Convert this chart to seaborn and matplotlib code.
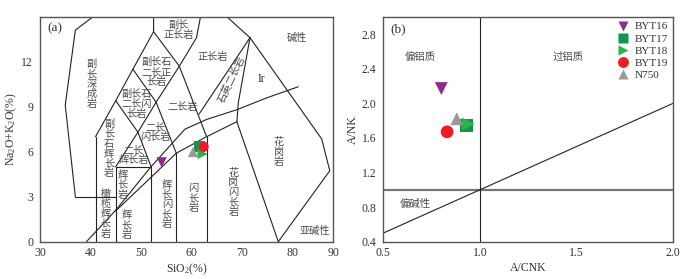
import matplotlib
matplotlib.use("Agg")
import matplotlib.pyplot as plt
import seaborn as sns
import pandas as pd
import numpy as np

sns.set_style("white")
plt.rcParams['font.family'] = ['Liberation Serif', 'Noto Sans CJK SC', 'DejaVu Sans']
plt.rcParams['mathtext.default'] = 'regular'

# ---------------- data ----------------
samples = ['BYT16', 'BYT17', 'BYT18', 'BYT19', 'N750']
sio2 = [54.1, 61.6, 62.2, 62.4, 60.3]
alk = [5.29, 6.35, 5.85, 6.33, 5.98]
acnk = [0.80, 0.93, 0.94, 0.83, 0.88]
ank = [2.17, 1.74, 1.76, 1.67, 1.82]

colors = {'BYT16': '#8e2a8e', 'BYT17': '#11964a', 'BYT18': '#2eb34a',
          'BYT19': '#ee1c24', 'N750': '#999999'}
markers = {'BYT16': 'v', 'BYT17': 's', 'BYT18': '>', 'BYT19': 'o', 'N750': '^'}

# TAS classification boundary lines (SiO2, Na2O+K2O)
tas_lines = [
    [(41, 0), (41, 7)],
    [(37, 3), (45, 3)],
    [(45, 0), (45, 5)],
    [(45, 5), (52, 5)],
    [(52, 0), (52, 5)],
    [(57, 0), (57, 5.9)],
    [(63, 0), (63, 7)],
    [(45, 2.05), (57, 5.9), (63, 7), (69, 8)],
    [(45, 5), (49.4, 7.3), (53, 9.3), (57.6, 11.7), (61, 13.6), (61.8, 15)],
    [(41, 7), (45, 9.4), (48.4, 11.5), (52.5, 14), (52.5, 15)],
    [(45, 9.4), (49.4, 7.3), (52, 5)],
    [(48.4, 11.5), (53, 9.3), (57, 5.9)],
    [(52.5, 14), (57.6, 11.7), (63, 7)],
    [(40.5, 15), (37, 14.1), (35, 9.1), (37, 3)],
    [(67, 15), (71.6, 13.6)],
    [(71.6, 13.6), (61.5, 8.5)],
    [(71.6, 13.6), (69.3, 9.3), (69, 8)],
    [(71.6, 13.6), (85.8, 6.85), (87.4, 4.73), (77.2, 0)],
    [(69, 8), (77.2, 0)],
]
ir_x = [39.2, 45, 52, 58.7, 63, 69, 75, 81.15]
ir_y = [0, 2.1, 5, 7.5, 8.15, 8.8, 9.6, 10.33]

tas_labels = [
    ('副长\n正长岩', 57.4, 14.1, 0),
    ('副\n长\n深\n成\n岩', 40.2, 10.5, 0),
    ('副长石\n二长正\n长岩', 53.1, 11.3, 0),
    ('副长石\n二长闪\n长岩', 49.15, 9.2, 0),
    ('副\n长\n石\n辉\n长\n岩', 43.7, 6.2, 0),
    ('二长\n闪长岩', 52.8, 7.3, 0),
    ('二长\n辉长岩', 48.5, 5.75, 0),
    ('辉\n长\n岩', 46.4, 3.8, 0),
    ('辉\n长\n岩', 47.2, 1.1, 0),
    ('橄\n榄\n辉\n长\n岩', 43.0, 1.85, 0),
    ('辉\n长\n闪\n长\n岩', 55.1, 2.5, 0),
    ('闪\n长\n岩', 60.4, 2.9, 0),
    ('花\n岗\n闪\n长\n岩', 68.3, 3.3, 0),
    ('花\n岗\n岩', 77.3, 6.0, 0),
    ('正长岩', 64.3, 12.3, 0),
    ('二长岩', 58.3, 9.0, 0),
    ('石英二长岩', 67.9, 10.85, 65),
    ('碱性', 80.8, 13.6, 0),
    ('亚碱性', 84.5, 0.69, 0),
]

# ---------------- figure ----------------
fig = plt.figure(figsize=(6.93, 2.79), dpi=100)
axa = fig.add_axes([40 / 693, 1 - 241.7 / 279, 293.3 / 693, 225 / 279])
axb = fig.add_axes([383.3 / 693, 1 - 241.7 / 279, 290 / 693, 225 / 279])

df = pd.DataFrame({'sample': samples, 'SiO2': sio2, 'ALK': alk,
                   'ACNK': acnk, 'ANK': ank})

txtc = '#333333'
lblc = '#4a4a4a'
cjk = ['Noto Sans CJK SC', 'DejaVu Sans']

# ---- panel (a) ----
for seg in tas_lines:
    xs, ys = zip(*seg)
    axa.plot(xs, ys, color='#222222', lw=0.8, zorder=2)
axa.plot(ir_x, ir_y, color='#222222', lw=0.8, zorder=2)

for t, x, y, rot in tas_labels:
    axa.text(x, y, t, ha='center', va='center', fontsize=7.3, color=lblc,
             family=cjk, rotation=rot, linespacing=0.98, zorder=3)
axa.text(73.8, 10.85, 'Ir', ha='center', va='center', fontsize=8.5, color=txtc)
axa.text(33.0, 14.2, '(a)', ha='center', va='center', fontsize=9.5, color=txtc)

sns.scatterplot(data=df, x='SiO2', y='ALK', hue='sample', style='sample',
                palette=colors, markers=markers, s=55, edgecolor='none',
                legend=False, ax=axa, zorder=5)

axa.set_xlim(30, 88.1)
axa.set_ylim(0, 15)
axa.set_xticks([30, 40, 50, 60, 70, 80, 88.1])
axa.set_xticklabels(['30', '40', '50', '60', '70', '80', '90'])
axa.set_yticks([0, 3, 6, 9, 12])
axa.set_xlabel('SiO$_2$(%)', fontsize=8.5, color=txtc, labelpad=2)
axa.set_ylabel('Na$_2$O+K$_2$O(%)', fontsize=8.5, color=txtc, labelpad=2)

# ---- panel (b) ----
axb.axhline(1.0, color='#777777', lw=1.6, zorder=1)
axb.axvline(1.0, color='#222222', lw=0.8, zorder=1)
axb.plot([0.5, 2.0], [0.5, 2.0], color='#222222', lw=0.8, zorder=1)

axb.text(0.69, 2.53, '偏铝质', ha='center', va='center', fontsize=7.5,
         color=lblc, family=cjk)
axb.text(1.457, 2.53, '过铝质', ha='center', va='center', fontsize=7.5,
         color=lblc, family=cjk)
axb.text(0.664, 0.84, '偏碱性', ha='center', va='center', fontsize=7.5,
         color=lblc, family=cjk)
axb.text(0.578, 2.85, '(b)', ha='center', va='center', fontsize=9.5, color=txtc)

sns.scatterplot(data=df, x='ACNK', y='ANK', hue='sample', style='sample',
                palette=colors, markers=markers, s=85, edgecolor='none',
                ax=axb, zorder=5)
leg = axb.legend(loc='upper right', frameon=False, fontsize=8,
                 handletextpad=0.1, labelspacing=0.22, borderaxespad=0.25,
                 markerscale=0.85, borderpad=0.2)
for t in leg.get_texts():
    t.set_color(txtc)

axb.set_xlim(0.5, 2.0)
axb.set_ylim(0.4, 3.0)
axb.set_xticks([0.5, 1.0, 1.5, 2.0])
axb.set_yticks([0.4, 0.8, 1.2, 1.6, 2.0, 2.4, 2.8])
axb.set_xlabel('A/CNK', fontsize=8.5, color=txtc, labelpad=2)
axb.set_ylabel('A/NK', fontsize=8.5, color=txtc, labelpad=2)

for ax in (axa, axb):
    for sp in ax.spines.values():
        sp.set_color('#555555')
        sp.set_linewidth(1.0)
    ax.tick_params(axis='x', direction='in', length=3, width=0.8,
                   labelsize=8.5, colors=txtc, pad=4)
    ax.tick_params(axis='y', direction='out', length=3, width=0.8,
                   labelsize=8.5, colors=txtc, pad=2)

fig.savefig('out.png', dpi=100)
